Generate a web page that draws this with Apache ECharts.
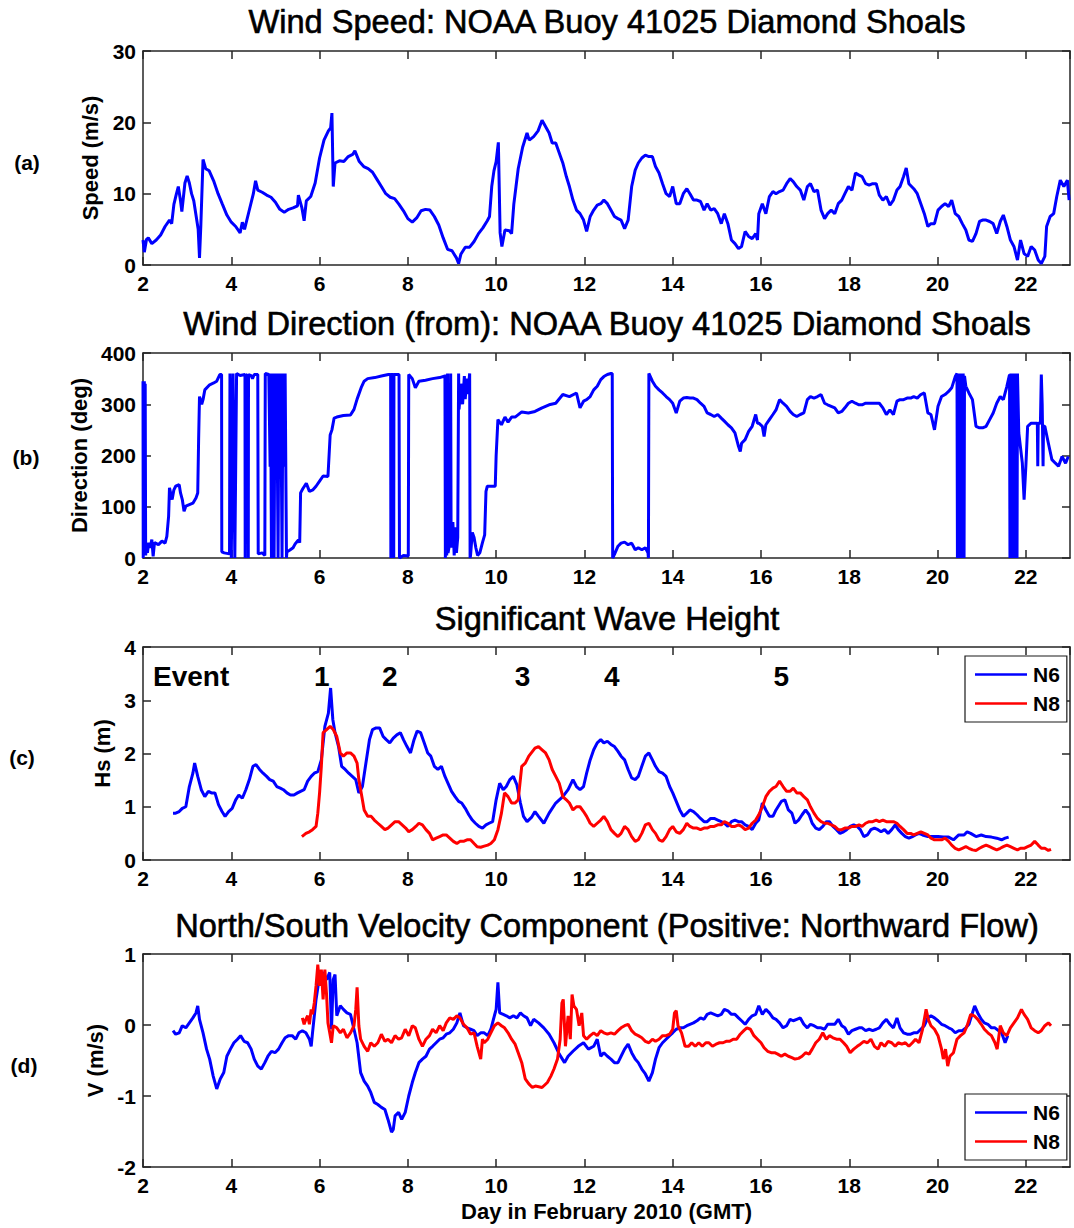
<!DOCTYPE html>
<html><head><meta charset="utf-8">
<script src="https://cdn.jsdelivr.net/npm/echarts@6/dist/echarts.min.js"></script>
<style>html,body{margin:0;padding:0;background:#fff}#chart{width:1074px;height:1228px}</style>
</head><body><div id="chart"></div>
<script>
// ---------- DATA (day in Feb 2010, value) ----------
const windSpeed = [[2.00,3.5],[2.03,1.8],[2.08,3.6],[2.12,3.8],[2.2,3.0],[2.3,3.5],[2.4,4.2],[2.5,5.4],[2.6,6.3],[2.65,5.8],[2.7,8.5],[2.75,9.8],[2.8,11.0],[2.85,9.0],[2.88,7.5],[2.95,11.5],[3.0,12.5],[3.05,11.5],[3.1,10],[3.15,9],[3.2,7],[3.25,5],[3.28,1.0],[3.31,5.5],[3.36,14.8],[3.42,13.5],[3.5,13.2],[3.6,11.8],[3.7,10],[3.8,8.5],[3.9,7],[4.0,6],[4.1,5.4],[4.2,4.5],[4.25,6],[4.3,5],[4.4,7.5],[4.5,10],[4.55,11.8],[4.6,10.5],[4.7,10.2],[4.8,9.8],[4.9,9.5],[5.0,8.8],[5.1,7.8],[5.2,7.4],[5.3,7.8],[5.4,8.0],[5.5,8.3],[5.52,9.8],[5.6,8.0],[5.65,6.2],[5.7,9.0],[5.8,9.6],[5.9,11.5],[6.0,15],[6.1,17.5],[6.2,18.8],[6.25,19.2],[6.28,21.3],[6.31,11],[6.35,14.3],[6.45,14.6],[6.55,14.5],[6.65,15.2],[6.75,15.5],[6.8,16.0],[6.9,14.5],[7.0,13.8],[7.1,13.5],[7.2,13.0],[7.3,12.0],[7.4,11.0],[7.5,10.0],[7.6,9.5],[7.7,9.3],[7.8,8.5],[7.9,7.6],[8.0,6.5],[8.1,6.0],[8.2,6.6],[8.3,7.6],[8.4,7.8],[8.5,7.7],[8.6,6.8],[8.7,5.6],[8.8,3.8],[8.9,2.2],[9.0,2.0],[9.1,1.0],[9.15,0.2],[9.2,1.5],[9.3,2.5],[9.4,2.5],[9.5,3.3],[9.6,4.4],[9.7,5.2],[9.8,6.2],[9.85,6.8],[9.9,11],[9.95,13.2],[10.0,14.5],[10.05,17.2],[10.09,4.5],[10.13,2.6],[10.2,4.9],[10.3,4.8],[10.35,4.4],[10.4,8.5],[10.45,11.0],[10.5,13.5],[10.6,16.5],[10.7,18.5],[10.75,17.5],[10.85,18],[10.95,18.8],[11.04,20.3],[11.2,18.5],[11.27,17.1],[11.35,17.1],[11.43,15.7],[11.51,14.3],[11.59,12.4],[11.66,11],[11.74,9.1],[11.82,7.7],[11.9,7.2],[11.98,6.3],[12.05,4.7],[12.13,6.8],[12.21,7.7],[12.29,8.4],[12.37,8.6],[12.44,9.1],[12.52,8.6],[12.6,7.7],[12.68,6.8],[12.76,6.5],[12.83,6.3],[12.91,5.1],[12.99,6.3],[13.07,11],[13.15,13.3],[13.22,14.3],[13.3,15],[13.38,15.4],[13.46,15.2],[13.54,15.2],[13.61,13.8],[13.69,12.9],[13.77,11.4],[13.85,10],[13.93,9.6],[14.0,11],[14.08,8.6],[14.16,8.6],[14.24,10],[14.32,10.7],[14.39,10],[14.47,9.1],[14.55,9.1],[14.63,8.9],[14.71,7.7],[14.78,8.6],[14.86,7.7],[14.94,7.9],[15.02,7.2],[15.1,5.8],[15.17,7.2],[15.25,5.8],[15.33,3.5],[15.41,3.0],[15.49,2.3],[15.56,2.6],[15.64,4.7],[15.72,4.0],[15.8,3.7],[15.88,4.4],[15.92,3.5],[15.95,7.2],[16.03,8.6],[16.11,7.2],[16.19,9.6],[16.27,10.3],[16.34,10],[16.42,10.3],[16.5,10.5],[16.58,11.4],[16.66,12.1],[16.73,11.7],[16.81,11],[16.89,10.5],[16.97,9.1],[17.05,11],[17.12,11.4],[17.2,10.3],[17.28,10.5],[17.36,7.7],[17.44,6.5],[17.51,7.2],[17.59,7.7],[17.67,7.2],[17.75,8.6],[17.83,9.1],[17.9,10],[17.98,11],[18.06,10.5],[18.14,12.9],[18.22,12.6],[18.29,12.4],[18.37,11.4],[18.45,11.2],[18.53,11.4],[18.61,11.4],[18.68,9.8],[18.76,9.1],[18.84,9.6],[18.92,8.4],[19.0,9.1],[19.08,10.5],[19.15,11],[19.23,12.4],[19.29,13.6],[19.35,11.4],[19.46,10.7],[19.54,10],[19.62,8.6],[19.7,7.2],[19.78,5.4],[19.85,5.8],[19.93,5.8],[20.01,7.7],[20.09,8.2],[20.17,8.6],[20.25,8.2],[20.32,9.1],[20.4,7.2],[20.48,6.8],[20.56,5.8],[20.64,4.9],[20.71,3.5],[20.79,3.3],[20.87,4.4],[20.95,6.1],[21.02,6.3],[21.1,6.3],[21.18,6.1],[21.26,5.8],[21.34,4.4],[21.42,6.1],[21.49,7.0],[21.57,5.4],[21.65,3.5],[21.73,2.6],[21.81,0.7],[21.88,3.5],[21.96,1.6],[22.04,1.2],[22.12,2.6],[22.2,2.1],[22.28,0.7],[22.35,0.2],[22.43,1.2],[22.47,5.4],[22.55,6.8],[22.63,7.2],[22.7,9.6],[22.78,11.9],[22.86,11],[22.94,11.9],[22.98,9.1]];

const windDir = [[2.00,345],[2.005,0],[2.01,345],[2.02,5],[2.03,345],[2.04,10],[2.05,340],[2.06,5],[2.07,20],[2.1,10],[2.13,30],[2.16,20],[2.2,36],[2.23,3],[2.26,30],[2.35,26],[2.43,33],[2.5,29],[2.54,42],[2.58,81],[2.6,137],[2.66,114],[2.7,133],[2.74,140],[2.82,143],[2.85,127],[2.89,114],[2.93,91],[2.97,101],[3.05,104],[3.13,107],[3.2,117],[3.24,127],[3.26,231],[3.28,315],[3.33,300],[3.36,309],[3.4,328],[3.51,338],[3.59,341],[3.67,345],[3.74,358],[3.78,358],[3.785,12],[3.84,10],[3.96,8],[3.97,360],[3.98,178],[4.0,0],[4.02,178],[4.04,360],[4.06,178],[4.08,0],[4.1,178],[4.12,360],[4.2,356],[4.31,358],[4.315,0],[4.33,358],[4.38,355],[4.385,0],[4.39,358],[4.45,356],[4.48,350],[4.52,358],[4.6,358],[4.61,8],[4.7,10],[4.76,5],[4.77,360],[4.85,358],[4.88,178],[4.89,360],[4.91,0],[4.93,360],[4.95,178],[4.97,0],[4.99,360],[5.01,178],[5.03,360],[5.06,0],[5.08,360],[5.1,178],[5.12,360],[5.15,0],[5.17,360],[5.2,178],[5.22,360],[5.25,0],[5.26,12],[5.32,15],[5.4,20],[5.45,28],[5.52,35],[5.55,30],[5.57,127],[5.62,135],[5.7,146],[5.77,130],[5.85,133],[5.92,140],[6.0,150],[6.08,160],[6.19,159],[6.24,240],[6.28,250],[6.33,273],[6.39,275],[6.54,278],[6.7,279],[6.78,290],[6.85,310],[6.95,334],[7.01,345],[7.09,350],[7.25,352],[7.4,355],[7.56,358],[7.61,358],[7.615,0],[7.62,358],[7.675,358],[7.68,0],[7.685,358],[7.8,358],[7.81,0],[7.9,5],[8.01,4],[8.02,358],[8.1,350],[8.17,332],[8.25,345],[8.4,347],[8.56,350],[8.72,352],[8.84,355],[8.85,0],[8.87,358],[8.88,5],[8.9,360],[8.91,10],[8.95,30],[8.97,360],[8.98,20],[9.02,70],[9.05,5],[9.08,60],[9.1,10],[9.13,40],[9.15,360],[9.16,290],[9.2,340],[9.24,300],[9.28,355],[9.3,310],[9.33,350],[9.36,320],[9.4,360],[9.41,0],[9.42,5],[9.46,50],[9.5,40],[9.54,20],[9.58,5],[9.63,10],[9.69,30],[9.74,45],[9.77,130],[9.8,140],[9.98,140],[10.0,200],[10.04,270],[10.12,260],[10.2,275],[10.27,265],[10.35,275],[10.43,275],[10.58,285],[10.73,283],[10.88,286],[11.04,293],[11.2,299],[11.35,302],[11.51,319],[11.66,315],[11.82,322],[11.9,293],[11.98,306],[12.05,309],[12.13,315],[12.21,328],[12.29,335],[12.37,348],[12.44,354],[12.52,358],[12.6,360],[12.63,360],[12.64,0],[12.68,7],[12.76,23],[12.83,29],[12.91,31],[12.99,26],[13.07,29],[13.15,16],[13.22,20],[13.3,16],[13.38,20],[13.44,10],[13.45,0],[13.46,360],[13.54,345],[13.61,335],[13.69,328],[13.77,322],[13.85,315],[13.93,309],[14.0,302],[14.08,283],[14.16,306],[14.24,312],[14.32,313],[14.39,312],[14.47,312],[14.55,309],[14.63,302],[14.71,296],[14.78,283],[14.86,280],[14.94,276],[15.02,280],[15.1,273],[15.17,267],[15.25,260],[15.33,254],[15.41,244],[15.49,218],[15.53,208],[15.56,224],[15.64,231],[15.72,247],[15.8,257],[15.88,280],[15.92,263],[15.95,263],[16.03,257],[16.07,237],[16.11,260],[16.19,270],[16.27,280],[16.34,289],[16.42,309],[16.5,302],[16.58,296],[16.66,286],[16.73,280],[16.81,276],[16.89,280],[16.97,283],[17.05,309],[17.12,315],[17.2,312],[17.28,315],[17.36,319],[17.44,302],[17.51,299],[17.59,296],[17.67,293],[17.75,283],[17.83,286],[17.9,293],[17.98,302],[18.06,306],[18.14,302],[18.22,299],[18.29,299],[18.37,302],[18.45,302],[18.53,302],[18.61,302],[18.68,302],[18.76,293],[18.84,280],[18.92,289],[19.0,280],[19.08,306],[19.15,309],[19.23,309],[19.31,312],[19.39,312],[19.46,315],[19.54,312],[19.62,319],[19.7,322],[19.78,283],[19.85,280],[19.93,250],[20.01,296],[20.09,315],[20.17,319],[20.25,325],[20.32,332],[20.4,354],[20.44,360],[20.45,0],[20.46,360],[20.48,0],[20.49,360],[20.51,0],[20.52,360],[20.54,0],[20.55,360],[20.57,0],[20.58,360],[20.6,0],[20.61,355],[20.64,335],[20.71,322],[20.79,309],[20.87,257],[20.95,254],[21.02,254],[21.1,257],[21.18,270],[21.26,283],[21.34,302],[21.42,315],[21.49,309],[21.57,335],[21.63,358],[21.64,0],[21.66,360],[21.68,0],[21.7,360],[21.72,0],[21.74,360],[21.76,0],[21.78,360],[21.8,0],[21.81,360],[21.84,244],[21.92,185],[21.96,114],[22.0,179],[22.04,257],[22.12,263],[22.2,263],[22.26,263],[22.27,179],[22.28,263],[22.33,263],[22.35,358],[22.37,300],[22.39,179],[22.4,257],[22.43,257],[22.51,224],[22.59,192],[22.67,185],[22.74,179],[22.82,198],[22.9,185],[22.96,198]];

const hsN6 = [[2.68,0.88],[2.74,0.88],[2.82,0.91],[2.89,0.97],[2.97,1.0],[3.05,1.38],[3.13,1.63],[3.17,1.82],[3.24,1.57],[3.32,1.32],[3.4,1.19],[3.48,1.29],[3.55,1.26],[3.63,1.26],[3.71,1.04],[3.79,0.91],[3.86,0.82],[3.94,0.91],[4.02,0.97],[4.1,1.13],[4.17,1.22],[4.25,1.16],[4.33,1.32],[4.41,1.51],[4.49,1.76],[4.56,1.79],[4.64,1.7],[4.72,1.63],[4.8,1.57],[4.87,1.51],[4.95,1.48],[5.03,1.38],[5.11,1.35],[5.18,1.32],[5.26,1.26],[5.34,1.22],[5.42,1.22],[5.5,1.26],[5.57,1.29],[5.65,1.32],[5.73,1.48],[5.81,1.57],[5.88,1.63],[5.96,1.66],[6.04,1.88],[6.12,2.51],[6.2,2.76],[6.25,3.23],[6.3,2.64],[6.35,2.39],[6.43,2.13],[6.5,1.76],[6.58,1.7],[6.66,1.63],[6.74,1.57],[6.82,1.51],[6.89,1.26],[6.97,1.38],[7.05,1.82],[7.13,2.26],[7.2,2.45],[7.28,2.48],[7.36,2.48],[7.44,2.32],[7.51,2.26],[7.59,2.2],[7.67,2.29],[7.75,2.35],[7.83,2.39],[7.9,2.26],[7.98,2.13],[8.06,2.01],[8.14,2.26],[8.21,2.42],[8.29,2.39],[8.37,2.2],[8.45,2.01],[8.52,1.95],[8.6,1.76],[8.68,1.7],[8.76,1.76],[8.84,1.57],[8.91,1.44],[8.99,1.29],[9.07,1.19],[9.15,1.1],[9.22,1.07],[9.3,0.97],[9.38,0.85],[9.46,0.75],[9.53,0.69],[9.61,0.63],[9.69,0.6],[9.77,0.66],[9.84,0.69],[9.92,0.72],[10.0,1.13],[10.08,1.44],[10.16,1.32],[10.23,1.38],[10.31,1.51],[10.39,1.57],[10.47,1.41],[10.55,1.07],[10.62,0.82],[10.7,0.72],[10.8,0.8],[10.88,0.91],[10.96,0.82],[11.08,0.69],[11.2,0.88],[11.35,1.07],[11.51,1.19],[11.63,1.32],[11.74,1.51],[11.82,1.38],[11.9,1.32],[11.98,1.38],[12.05,1.63],[12.13,1.88],[12.21,2.07],[12.29,2.2],[12.37,2.26],[12.44,2.2],[12.52,2.23],[12.6,2.17],[12.68,2.13],[12.76,2.04],[12.83,1.95],[12.91,1.88],[12.99,1.7],[13.07,1.54],[13.15,1.51],[13.22,1.57],[13.3,1.76],[13.38,1.95],[13.46,2.01],[13.54,1.88],[13.61,1.76],[13.69,1.66],[13.77,1.63],[13.85,1.57],[13.93,1.38],[14.0,1.26],[14.08,1.1],[14.16,0.94],[14.24,0.82],[14.32,0.88],[14.39,0.94],[14.47,0.91],[14.55,0.85],[14.63,0.78],[14.71,0.72],[14.78,0.72],[14.86,0.78],[14.94,0.78],[15.02,0.75],[15.1,0.72],[15.17,0.69],[15.25,0.63],[15.33,0.72],[15.41,0.75],[15.49,0.72],[15.56,0.72],[15.64,0.66],[15.72,0.63],[15.8,0.57],[15.88,0.69],[15.95,0.75],[16.03,1.07],[16.11,0.94],[16.19,0.82],[16.27,0.82],[16.34,0.94],[16.46,1.1],[16.54,1.13],[16.62,0.94],[16.7,0.88],[16.77,0.69],[16.85,0.75],[16.93,0.85],[17.01,0.94],[17.09,0.85],[17.16,0.69],[17.24,0.6],[17.32,0.57],[17.4,0.63],[17.48,0.72],[17.55,0.72],[17.63,0.63],[17.71,0.57],[17.79,0.5],[17.87,0.53],[17.94,0.57],[18.02,0.63],[18.1,0.66],[18.18,0.63],[18.25,0.57],[18.33,0.44],[18.41,0.47],[18.49,0.57],[18.57,0.6],[18.65,0.57],[18.72,0.53],[18.8,0.57],[18.88,0.5],[18.96,0.57],[19.04,0.66],[19.11,0.57],[19.19,0.5],[19.27,0.44],[19.35,0.41],[19.43,0.44],[19.5,0.47],[19.58,0.5],[19.66,0.47],[19.78,0.44],[19.89,0.44],[20.01,0.44],[20.13,0.43],[20.25,0.43],[20.36,0.38],[20.48,0.47],[20.6,0.47],[20.67,0.53],[20.75,0.5],[20.87,0.44],[20.99,0.47],[21.1,0.44],[21.22,0.43],[21.34,0.41],[21.45,0.38],[21.53,0.41],[21.61,0.43]];

const hsN8 = [[5.6,0.44],[5.69,0.5],[5.77,0.53],[5.84,0.57],[5.92,0.63],[5.96,0.88],[6.0,1.26],[6.04,1.76],[6.08,2.39],[6.16,2.45],[6.24,2.51],[6.31,2.45],[6.39,2.32],[6.47,2.01],[6.54,1.95],[6.62,2.01],[6.7,2.01],[6.78,1.95],[6.85,1.82],[6.89,1.51],[6.93,1.32],[6.97,1.13],[7.01,0.94],[7.09,0.82],[7.17,0.82],[7.24,0.75],[7.32,0.69],[7.4,0.63],[7.48,0.57],[7.55,0.6],[7.63,0.66],[7.71,0.72],[7.79,0.72],[7.87,0.66],[7.95,0.6],[8.02,0.53],[8.1,0.57],[8.18,0.63],[8.25,0.69],[8.33,0.66],[8.41,0.57],[8.49,0.5],[8.56,0.38],[8.64,0.41],[8.72,0.44],[8.8,0.47],[8.87,0.47],[8.95,0.41],[9.03,0.35],[9.11,0.31],[9.18,0.35],[9.26,0.35],[9.34,0.38],[9.42,0.38],[9.5,0.31],[9.57,0.25],[9.65,0.24],[9.73,0.26],[9.81,0.28],[9.88,0.31],[9.96,0.38],[10.04,0.57],[10.12,0.88],[10.19,1.26],[10.27,1.19],[10.35,1.07],[10.43,1.07],[10.5,1.13],[10.58,1.76],[10.66,1.82],[10.74,1.95],[10.88,2.1],[10.96,2.13],[11.04,2.07],[11.12,2.01],[11.2,1.88],[11.27,1.7],[11.35,1.57],[11.43,1.44],[11.51,1.19],[11.59,1.13],[11.66,1.07],[11.74,0.94],[11.82,1.0],[11.9,1.0],[11.98,0.91],[12.05,0.82],[12.13,0.69],[12.21,0.63],[12.29,0.69],[12.37,0.75],[12.44,0.82],[12.52,0.72],[12.6,0.57],[12.68,0.5],[12.76,0.44],[12.83,0.5],[12.91,0.63],[12.99,0.57],[13.07,0.44],[13.15,0.35],[13.22,0.38],[13.3,0.5],[13.38,0.66],[13.46,0.69],[13.54,0.57],[13.61,0.5],[13.69,0.38],[13.77,0.35],[13.85,0.44],[13.93,0.57],[14.0,0.63],[14.08,0.53],[14.16,0.5],[14.24,0.57],[14.32,0.69],[14.39,0.63],[14.47,0.6],[14.55,0.6],[14.63,0.57],[14.71,0.6],[14.78,0.6],[14.86,0.63],[14.94,0.63],[15.02,0.66],[15.1,0.66],[15.17,0.72],[15.25,0.69],[15.33,0.63],[15.41,0.63],[15.49,0.66],[15.56,0.63],[15.64,0.57],[15.72,0.6],[15.8,0.69],[15.88,0.75],[15.95,0.85],[16.03,1.0],[16.11,1.19],[16.19,1.29],[16.27,1.35],[16.34,1.38],[16.42,1.48],[16.5,1.38],[16.58,1.29],[16.66,1.29],[16.73,1.35],[16.81,1.26],[16.89,1.26],[16.97,1.19],[17.05,1.13],[17.12,1.0],[17.2,0.88],[17.28,0.78],[17.36,0.72],[17.44,0.69],[17.51,0.69],[17.59,0.66],[17.67,0.63],[17.75,0.57],[17.83,0.57],[17.9,0.6],[17.98,0.6],[18.06,0.63],[18.14,0.63],[18.22,0.66],[18.29,0.63],[18.37,0.69],[18.45,0.72],[18.53,0.72],[18.61,0.75],[18.68,0.72],[18.76,0.75],[18.84,0.72],[18.92,0.72],[19.0,0.72],[19.08,0.69],[19.15,0.63],[19.23,0.57],[19.31,0.5],[19.39,0.5],[19.46,0.47],[19.54,0.5],[19.62,0.53],[19.7,0.5],[19.78,0.47],[19.85,0.41],[19.93,0.38],[20.01,0.38],[20.09,0.38],[20.17,0.41],[20.25,0.35],[20.32,0.28],[20.4,0.22],[20.48,0.19],[20.56,0.22],[20.64,0.25],[20.71,0.22],[20.79,0.19],[20.87,0.18],[20.95,0.22],[21.02,0.25],[21.1,0.28],[21.18,0.25],[21.26,0.22],[21.34,0.19],[21.42,0.22],[21.49,0.25],[21.57,0.28],[21.65,0.25],[21.73,0.22],[21.81,0.19],[21.88,0.22],[21.96,0.22],[22.04,0.25],[22.12,0.28],[22.2,0.35],[22.28,0.28],[22.35,0.22],[22.43,0.22],[22.51,0.18],[22.57,0.2]];

const vN6 = [[2.68,-0.08],[2.74,-0.13],[2.82,-0.11],[2.89,-0.01],[2.97,-0.04],[3.05,0.03],[3.13,0.1],[3.2,0.17],[3.24,0.27],[3.28,0.08],[3.36,-0.11],[3.44,-0.34],[3.51,-0.48],[3.59,-0.72],[3.67,-0.9],[3.75,-0.76],[3.83,-0.67],[3.9,-0.44],[3.98,-0.34],[4.06,-0.25],[4.14,-0.2],[4.21,-0.15],[4.29,-0.23],[4.37,-0.25],[4.45,-0.34],[4.52,-0.48],[4.6,-0.58],[4.68,-0.62],[4.76,-0.53],[4.83,-0.44],[4.91,-0.37],[4.99,-0.39],[5.07,-0.34],[5.15,-0.25],[5.22,-0.18],[5.3,-0.15],[5.38,-0.15],[5.46,-0.2],[5.53,-0.11],[5.61,-0.08],[5.69,-0.11],[5.77,-0.2],[5.81,-0.3],[5.84,-0.11],[5.92,0.36],[6.0,0.69],[6.08,0.74],[6.16,0.64],[6.23,0.74],[6.27,-0.06],[6.31,0.64],[6.35,0.71],[6.39,0.13],[6.47,0.27],[6.54,0.22],[6.62,0.17],[6.7,0.15],[6.78,-0.06],[6.85,-0.25],[6.93,-0.67],[7.01,-0.79],[7.09,-0.86],[7.16,-0.95],[7.24,-1.09],[7.32,-1.12],[7.4,-1.16],[7.48,-1.19],[7.55,-1.33],[7.63,-1.51],[7.67,-1.47],[7.71,-1.28],[7.79,-1.23],[7.86,-1.33],[7.94,-1.23],[8.02,-1.0],[8.1,-0.81],[8.17,-0.67],[8.25,-0.53],[8.33,-0.48],[8.41,-0.44],[8.49,-0.34],[8.56,-0.3],[8.64,-0.25],[8.72,-0.2],[8.8,-0.18],[8.87,-0.13],[8.95,-0.11],[9.03,-0.06],[9.11,0.03],[9.18,0.17],[9.26,-0.01],[9.34,-0.04],[9.42,-0.06],[9.5,-0.08],[9.57,-0.15],[9.65,-0.11],[9.73,-0.11],[9.81,-0.15],[9.88,-0.06],[9.96,0.13],[10.0,0.22],[10.04,0.6],[10.08,0.17],[10.16,0.15],[10.23,0.13],[10.31,0.1],[10.39,0.13],[10.47,0.1],[10.55,0.17],[10.62,0.13],[10.7,0.1],[10.78,-0.01],[10.85,0.08],[10.96,0.03],[11.08,-0.04],[11.2,-0.13],[11.31,-0.25],[11.43,-0.41],[11.55,-0.53],[11.63,-0.44],[11.74,-0.37],[11.86,-0.3],[11.98,-0.25],[12.09,-0.34],[12.21,-0.3],[12.29,-0.2],[12.37,-0.44],[12.44,-0.39],[12.52,-0.44],[12.6,-0.48],[12.68,-0.53],[12.76,-0.53],[12.83,-0.44],[12.91,-0.34],[12.99,-0.27],[13.07,-0.39],[13.15,-0.48],[13.22,-0.53],[13.3,-0.62],[13.38,-0.69],[13.46,-0.79],[13.54,-0.67],[13.61,-0.48],[13.69,-0.32],[13.77,-0.25],[13.85,-0.2],[13.93,-0.15],[14.0,-0.11],[14.08,-0.06],[14.16,-0.04],[14.24,-0.04],[14.32,-0.01],[14.39,0.01],[14.47,0.03],[14.55,0.06],[14.63,0.1],[14.71,0.08],[14.78,0.15],[14.86,0.17],[14.94,0.15],[15.02,0.13],[15.1,0.15],[15.17,0.22],[15.25,0.2],[15.33,0.15],[15.41,0.15],[15.49,0.1],[15.56,0.06],[15.64,0.01],[15.72,0.08],[15.8,0.13],[15.88,0.15],[15.95,0.27],[16.03,0.15],[16.11,0.22],[16.19,0.17],[16.27,0.1],[16.34,0.08],[16.42,0.03],[16.5,-0.04],[16.58,-0.01],[16.66,0.08],[16.73,0.06],[16.81,0.08],[16.89,0.1],[16.97,0.01],[17.05,-0.04],[17.12,0.01],[17.2,-0.01],[17.28,-0.04],[17.36,-0.04],[17.44,-0.06],[17.51,0.01],[17.59,0.01],[17.67,0.01],[17.75,0.08],[17.83,-0.01],[17.9,-0.04],[17.98,-0.13],[18.06,-0.08],[18.14,-0.06],[18.22,-0.04],[18.29,-0.04],[18.37,-0.08],[18.45,-0.06],[18.53,-0.08],[18.61,-0.06],[18.68,-0.04],[18.76,0.03],[18.84,0.08],[18.92,0.01],[19.0,-0.04],[19.08,0.1],[19.15,-0.04],[19.23,-0.11],[19.31,-0.13],[19.39,-0.13],[19.46,-0.11],[19.54,-0.11],[19.62,-0.06],[19.7,-0.01],[19.78,0.1],[19.85,0.13],[19.93,0.1],[20.01,0.06],[20.09,0.01],[20.17,-0.01],[20.25,-0.04],[20.32,-0.06],[20.4,-0.11],[20.48,-0.08],[20.56,-0.08],[20.64,-0.04],[20.71,0.01],[20.79,0.17],[20.84,0.27],[20.91,0.17],[20.99,0.08],[21.06,0.03],[21.14,0.01],[21.22,-0.04],[21.3,-0.04],[21.38,-0.08],[21.45,-0.11],[21.53,-0.25],[21.59,-0.15]];

const vN8 = [[5.61,0.1],[5.65,0.01],[5.69,0.08],[5.73,0.13],[5.77,0.01],[5.81,0.22],[5.84,0.15],[5.88,0.31],[5.92,0.55],[5.96,0.85],[6.0,0.55],[6.04,0.78],[6.08,0.36],[6.12,0.78],[6.16,0.41],[6.19,0.03],[6.23,-0.11],[6.27,-0.25],[6.31,-0.01],[6.39,-0.04],[6.47,-0.11],[6.54,-0.06],[6.62,-0.18],[6.7,-0.11],[6.78,-0.01],[6.82,0.22],[6.85,0.53],[6.89,-0.01],[6.93,-0.2],[7.01,-0.3],[7.09,-0.37],[7.16,-0.25],[7.24,-0.3],[7.32,-0.25],[7.4,-0.13],[7.48,-0.23],[7.55,-0.2],[7.63,-0.25],[7.71,-0.15],[7.79,-0.2],[7.86,-0.18],[7.94,-0.06],[8.02,-0.15],[8.1,-0.01],[8.17,-0.04],[8.25,-0.2],[8.33,-0.3],[8.41,-0.2],[8.49,-0.15],[8.56,-0.06],[8.64,-0.11],[8.72,-0.01],[8.8,-0.08],[8.87,0.03],[8.95,0.1],[9.03,0.08],[9.11,0.13],[9.18,0.1],[9.26,0.01],[9.34,-0.04],[9.42,-0.13],[9.5,-0.11],[9.57,-0.3],[9.65,-0.48],[9.69,-0.2],[9.73,-0.25],[9.81,-0.2],[9.88,-0.11],[9.96,-0.01],[10.04,0.03],[10.12,-0.01],[10.19,-0.04],[10.27,-0.11],[10.35,-0.2],[10.43,-0.27],[10.5,-0.39],[10.58,-0.53],[10.66,-0.76],[10.74,-0.83],[10.82,-0.88],[10.89,-0.86],[11.04,-0.88],[11.16,-0.81],[11.24,-0.72],[11.31,-0.62],[11.39,-0.48],[11.45,-0.2],[11.49,0.31],[11.52,0.36],[11.57,-0.3],[11.63,0.13],[11.68,-0.2],[11.72,0.43],[11.76,0.27],[11.82,0.22],[11.88,-0.01],[11.94,0.17],[11.98,-0.15],[12.05,-0.2],[12.13,-0.15],[12.21,-0.11],[12.29,-0.15],[12.37,-0.08],[12.44,-0.11],[12.52,-0.13],[12.6,-0.11],[12.68,-0.13],[12.76,-0.08],[12.83,-0.04],[12.91,-0.01],[12.99,0.01],[13.07,-0.08],[13.15,-0.13],[13.22,-0.15],[13.3,-0.18],[13.38,-0.23],[13.46,-0.25],[13.54,-0.2],[13.61,-0.23],[13.69,-0.2],[13.77,-0.15],[13.85,-0.15],[13.93,-0.13],[14.0,-0.06],[14.04,0.17],[14.08,0.2],[14.12,-0.01],[14.2,-0.11],[14.28,-0.3],[14.36,-0.3],[14.43,-0.25],[14.51,-0.3],[14.59,-0.25],[14.67,-0.3],[14.75,-0.25],[14.82,-0.25],[14.9,-0.3],[14.98,-0.27],[15.06,-0.25],[15.14,-0.25],[15.21,-0.23],[15.29,-0.23],[15.37,-0.2],[15.45,-0.2],[15.53,-0.13],[15.61,-0.08],[15.68,-0.04],[15.76,-0.06],[15.84,-0.15],[15.92,-0.2],[16.0,-0.25],[16.07,-0.32],[16.15,-0.37],[16.23,-0.39],[16.31,-0.39],[16.38,-0.41],[16.46,-0.44],[16.54,-0.41],[16.62,-0.44],[16.7,-0.46],[16.77,-0.48],[16.85,-0.47],[16.93,-0.44],[17.01,-0.39],[17.09,-0.41],[17.16,-0.34],[17.24,-0.25],[17.32,-0.2],[17.4,-0.11],[17.48,-0.2],[17.55,-0.15],[17.63,-0.18],[17.71,-0.2],[17.79,-0.2],[17.87,-0.25],[17.94,-0.3],[18.02,-0.39],[18.1,-0.34],[18.18,-0.3],[18.25,-0.27],[18.33,-0.23],[18.41,-0.25],[18.49,-0.2],[18.57,-0.3],[18.65,-0.34],[18.72,-0.25],[18.8,-0.3],[18.88,-0.23],[18.96,-0.25],[19.04,-0.3],[19.11,-0.25],[19.19,-0.27],[19.27,-0.25],[19.35,-0.3],[19.43,-0.25],[19.5,-0.2],[19.58,-0.25],[19.66,-0.06],[19.74,0.22],[19.79,0.08],[19.85,-0.01],[19.93,-0.06],[20.01,-0.15],[20.09,-0.34],[20.13,-0.48],[20.18,-0.34],[20.23,-0.58],[20.28,-0.44],[20.36,-0.39],[20.44,-0.2],[20.52,-0.15],[20.6,-0.11],[20.67,-0.01],[20.75,0.15],[20.83,0.13],[20.91,0.08],[20.99,0.01],[21.06,-0.06],[21.14,-0.11],[21.22,-0.15],[21.3,-0.25],[21.35,-0.34],[21.42,-0.01],[21.49,-0.11],[21.57,-0.15],[21.65,-0.04],[21.73,0.03],[21.81,0.1],[21.9,0.22],[21.96,0.15],[22.04,0.08],[22.12,-0.04],[22.2,-0.08],[22.28,-0.11],[22.35,-0.08],[22.43,-0.01],[22.51,0.03],[22.57,-0.01]];

const eventLabels = ['Event','1','2','3','4','5'];
const eventDays = [3.09, 6.05, 7.59, 10.6, 12.62, 16.46];
const eventLevel = 3.45;

const titles = ['Wind Speed: NOAA Buoy 41025 Diamond Shoals','Wind Direction (from): NOAA Buoy 41025 Diamond Shoals','Significant Wave Height','North/South Velocity Component (Positive: Northward Flow)'];
const panelTags = ['(a)','(b)','(c)','(d)'];
const yNames = ['Speed (m/s)','Direction (deg)','Hs (m)','V (m/s)'];
const yRanges = [[0,30,10],[0,400,100],[0,4,1],[-2,1,1]];
const xRange = [2,23,2];
const xName = 'Day in February 2010 (GMT)';
const seriesNames = ['N6','N8'];

// ---------- LAYOUT ----------
const FONT = '"Liberation Sans", Arial, Helvetica, sans-serif';
const AX = '#262626';
const BLUE = '#0000ff', RED = '#ff0000';
const grids = [
  {left:143, top:51, width:927, height:214},
  {left:143, top:353, width:927, height:205},
  {left:143, top:647, width:927, height:213},
  {left:143, top:954, width:927, height:213}
];
const titleY = [21, 323, 618, 925];
const tagPos = [[27,162],[26,457],[22,757],[24,1065]];
const yNameGap = [40, 52, 29, 34];

const chart = echarts.init(document.getElementById('chart'), null, {renderer:'svg', width:1074, height:1228});

const tickLabel = {fontSize:21, fontWeight:'bold', fontFamily:FONT, color:'#000'};
const xAxes = [], yAxes = [];
for (let i = 0; i < 4; i++) {
  for (const top of [false, true]) {
    const ax = {
      type:'value', gridIndex:i, position: top ? 'top' : 'bottom',
      min:xRange[0], max:xRange[1], interval:xRange[2],
      axisLine:{show:true, onZero:false, lineStyle:{color:AX, width:1.5}},
      axisTick:{show:true, inside:true, length:8, lineStyle:{color:AX, width:1.5}},
      axisLabel:Object.assign({show:!top, showMaxLabel:false, margin:8}, tickLabel),
      splitLine:{show:false}
    };
    if (!top && i === 3) {
      ax.name = xName; ax.nameLocation = 'middle'; ax.nameGap = 33;
      ax.nameTextStyle = {fontSize:22, fontWeight:'bold', fontFamily:FONT, color:'#000'};
    }
    xAxes.push(ax);
  }
  for (const right of [false, true]) {
    const r = yRanges[i];
    const ay = {
      type:'value', gridIndex:i, position: right ? 'right' : 'left',
      min:r[0], max:r[1], interval:r[2],
      axisLine:{show:true, onZero:false, lineStyle:{color:AX, width:1.5}},
      axisTick:{show:true, inside:true, length:8, lineStyle:{color:AX, width:1.5}},
      axisLabel:Object.assign({show:!right, margin:7}, tickLabel),
      splitLine:{show:false}
    };
    if (!right) {
      ay.name = yNames[i]; ay.nameLocation = 'middle'; ay.nameGap = yNameGap[i];
      ay.nameTextStyle = {fontSize:22, fontWeight:'bold', fontFamily:FONT, color:'#000'};
    }
    yAxes.push(ay);
  }
}
// axis indices: bottom x = 2*i, left y = 2*i

function lineSeries(name, data, color, gi) {
  return {type:'line', name:name, data:data, xAxisIndex:2*gi, yAxisIndex:2*gi,
    showSymbol:false, symbol:'none', smooth:false, silent:true,
    lineStyle:{color:color, width:3}, itemStyle:{color:color}};
}

const series = [
  lineSeries('Wind speed', windSpeed, BLUE, 0),
  lineSeries('Wind direction', windDir, BLUE, 1),
  lineSeries(seriesNames[0], hsN6, BLUE, 2),
  lineSeries(seriesNames[1], hsN8, RED, 2),
  {type:'scatter', name:'events', xAxisIndex:4, yAxisIndex:4, silent:true, symbolSize:1,
   itemStyle:{color:'rgba(255,255,255,0)'},
   data: eventDays.map((d,k)=>({name:eventLabels[k], value:[d, eventLevel]})),
   label:{show:true, position:'inside', formatter:'{b}', fontSize:28, fontWeight:'bold', fontFamily:FONT,
          color:'#000000', opacity:1, textBorderWidth:0, textBorderColor:'transparent'}},
  lineSeries(seriesNames[0], vN6, BLUE, 3),
  lineSeries(seriesNames[1], vN8, RED, 3)
];

const graphics = [];
for (let i = 0; i < 4; i++) {
  graphics.push({type:'text', x:607, y:titleY[i], silent:true,
    style:{text:titles[i], textAlign:'center', textVerticalAlign:'middle', fontSize:32.6, fontWeight:'normal', fontFamily:FONT,
           fill:'#000', stroke:'#000', lineWidth:0.6}});
  graphics.push({type:'text', x:tagPos[i][0], y:tagPos[i][1], silent:true,
    style:{text:panelTags[i], textAlign:'center', textVerticalAlign:'middle', fontSize:21, fontWeight:'bold', fontFamily:FONT, fill:'#000'}});
}

const legendBase = {data:seriesNames, orient:'vertical', left:965, icon:'rect', itemWidth:52, itemHeight:2.5, itemGap:8,
  padding:[8,7,8,10], borderColor:'#1a1a1a', borderWidth:1.2, backgroundColor:'#fff', selectedMode:false,
  textStyle:{fontSize:21, fontWeight:'bold', fontFamily:FONT, color:'#000', padding:[0,0,0,1]}};

chart.setOption({
  animation:false,
  backgroundColor:'#fff',
  grid:grids,
  xAxis:xAxes,
  yAxis:yAxes,
  legend:[Object.assign({top:656}, legendBase), Object.assign({top:1094}, legendBase)],
  graphic:graphics,
  series:series
});
</script></body></html>
